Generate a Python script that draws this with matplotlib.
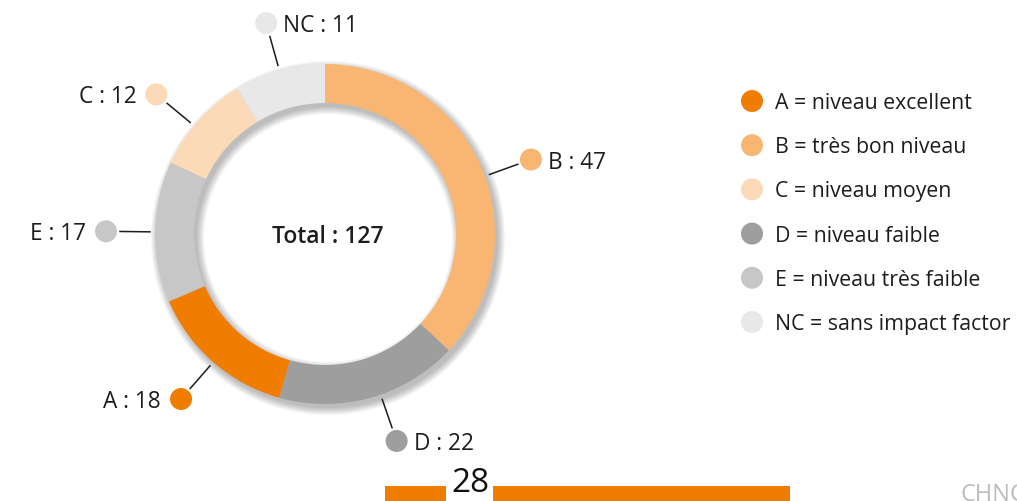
import numpy as np
import matplotlib.pyplot as plt
from matplotlib.patches import Circle, Wedge, Rectangle

# --- Data ---
categories = ["B", "D", "A", "E", "C", "NC"]
counts = [47, 22, 18, 17, 12, 11]
colors = ["#F8B672", "#9D9E9D", "#F07D00", "#C6C7C6", "#FDDAB7", "#E8E8E8"]

legend_keys = ["A", "B", "C", "D", "E", "NC"]
legend_texts = ["A = niveau excellent", "B = très bon niveau", "C = niveau moyen",
                "D = niveau faible", "E = niveau très faible", "NC = sans impact factor"]

page_number = "28"
footer_text = "CHNC"

# --- Layout (pixels, y up) ---
W, H = 1017, 501
cx, cy = 325, H - 234
r_out, ring_w = 170, 39
font = "Open Sans"
txt_col = "#1d1d1b"
# small angle tweaks for leader placement (degrees)
nudge = {"B": -3.5, "D": 3.5, "C": 2.2}

fig = plt.figure(figsize=(W / 100, H / 100), dpi=100)
ax = fig.add_axes([0, 0, 1, 1])
ax.set_xlim(0, W)
ax.set_ylim(0, H)
ax.set_aspect("equal")
ax.axis("off")

# soft drop shadow under the ring
for k in range(10):
    ax.add_patch(Wedge((cx + 3, cy - 4), r_out + k * 0.8, 0, 360,
                       width=ring_w + k * 1.6, color="black", alpha=0.028, lw=0))

wedges, _ = ax.pie(counts, colors=colors, startangle=90, counterclock=False,
                   radius=r_out, center=(cx, cy),
                   wedgeprops=dict(width=ring_w, linewidth=0))
ax.set_xlim(0, W)
ax.set_ylim(0, H)

ax.text(cx + 3, cy, f"Total : {sum(counts)}", ha="center", va="center_baseline",
        fontsize=16.5, family=font, weight="semibold", color=txt_col)

# leader lines, dots and labels
for w, cat, n, col in zip(wedges, categories, counts, colors):
    ang = np.deg2rad((w.theta1 + w.theta2) / 2 + nudge.get(cat, 0))
    ux, uy = np.cos(ang), np.sin(ang)
    ax.plot([cx + 175 * ux, cx + 205 * ux], [cy + 175 * uy, cy + 205 * uy],
            color="#1d1d1b", lw=1.1)
    dx, dy = cx + 219 * ux, cy + 219 * uy
    ax.add_patch(Circle((dx, dy), 11, color=col, lw=0))
    if dx > cx - 80:
        ax.text(dx + 17, dy, f"{cat} : {n}", ha="left", va="center_baseline",
                fontsize=16.3, family=font, color=txt_col)
    else:
        ax.text(dx - 20, dy, f"{cat} : {n}", ha="right", va="center_baseline",
                fontsize=16.3, family=font, color=txt_col)

# legend
cmap = dict(zip(categories, colors))
for i, (key, label) in enumerate(zip(legend_keys, legend_texts)):
    ly = H - (101 + i * 44.2)
    ax.add_patch(Circle((752, ly), 11, color=cmap[key], lw=0))
    ax.text(775, ly, label, ha="left", va="center_baseline",
            fontsize=15.3, family=font, color=txt_col)

# footer
ax.add_patch(Rectangle((385, 0), 61, 15, color="#F07D00", lw=0))
ax.add_patch(Rectangle((493, 0), 297, 15, color="#F07D00", lw=0))
ax.text(470, 1, page_number, ha="center", va="bottom", fontsize=24,
        family=font, color="#111111")
ax.text(960, -6, footer_text, ha="left", va="bottom", fontsize=17,
        family=font, color="#bdbdbd")

fig.savefig("out.png", dpi=100)
